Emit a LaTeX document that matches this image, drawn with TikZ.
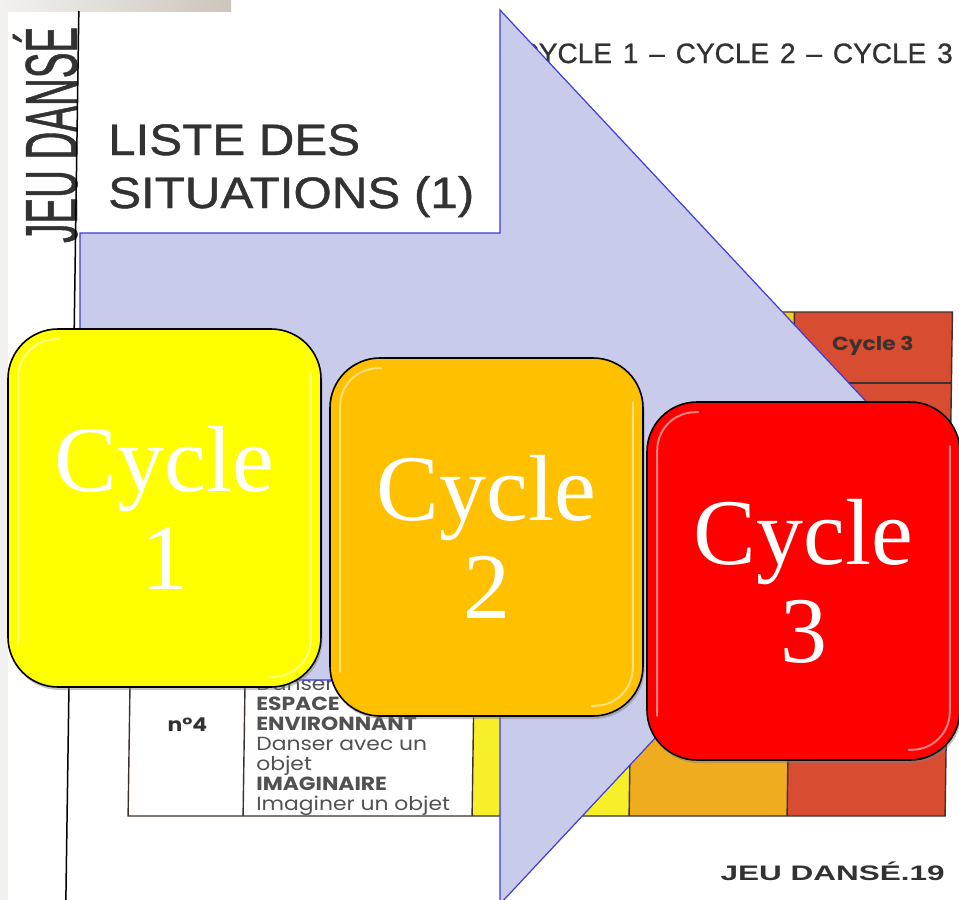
\documentclass[tikz,border=0pt]{standalone}
\usepackage{fontspec}
\setmainfont{Liberation Serif}
\newfontfamily\titlefont[FakeStretch=1.12, FakeBold=1]{Liberation Sans}
\newfontfamily\headfont[FakeBold=0.8, WordSpace=1.4]{Liberation Sans}
\newfontfamily\spinefont[FakeStretch=0.52, FakeBold=0.6]{Liberation Sans}
\newfontfamily\footfont[FakeStretch=1.5]{Liberation Sans}
\newfontfamily\cellfont[FakeStretch=1.15]{Poppins}
\usetikzlibrary{
	calc,
	shadows
}

\definecolor{arrowfill}{RGB}{200,203,234}
\definecolor{arrowline}{RGB}{60,60,225}
\definecolor{cycone}{RGB}{255,255,0}
\definecolor{cyctwo}{RGB}{255,192,0}
\definecolor{cycthree}{RGB}{255,0,0}
\definecolor{tabyellow}{RGB}{247,240,40}
\definecolor{tabgold}{RGB}{245,205,30}
\definecolor{taborange}{RGB}{238,172,30}
\definecolor{tabred}{RGB}{216,76,50}
\definecolor{tabink}{RGB}{60,50,45}
\definecolor{ink}{RGB}{50,50,50}
\definecolor{margin}{RGB}{243,241,239}
\definecolor{bardark}{RGB}{203,197,187}

\begin{document}
\begin{tikzpicture}[
	x=1pt, y=-1pt,
	>=latex,
	cyclebox/.style={draw=black, line width=1.6pt, rounded corners=50pt,
		minimum width=313pt, minimum height=358pt, align=center, text=white,
		font=\fontsize{94}{98}\selectfont,
		drop shadow={shadow xshift=1.5pt, shadow yshift=-3pt, opacity=0.45}},
	gloss/.style={draw=white, opacity=0.5, line width=2pt, rounded corners=38pt, line cap=round},
	tabrule/.style={draw=tabink, line width=1.4pt}
]
	\useasboundingbox (0,0) rectangle (959,900);
	\clip (0,0) rectangle (959,900);
	\fill[white] (0,0) rectangle (959,900);

	% scanned page
	\fill[margin] (0,11) rectangle (8,900);
	\shade[left color=margin, right color=bardark] (0,0) rectangle (231,11);

	\node(spine)[rotate=90, anchor=base west, inner sep=0, text=ink,
		font=\spinefont\fontsize{74}{74}\selectfont] at (77,243) {JEU DANSÉ};
	\node(title)[anchor=base west, inner sep=0, align=left, text=ink,
		font=\titlefont\fontsize{44}{53}\selectfont] at (108,208) {LISTE DES\\SITUATIONS (1)};
	\node(cycles)[anchor=base east, inner sep=0, text=ink,
		font=\headfont\fontsize{28}{28}\selectfont] at (953,63) {CYCLE 1 – CYCLE 2 – CYCLE 3};
	\node(folio)[anchor=base east, inner sep=0, text=ink,
		font=\footfont\bfseries\fontsize{21}{21}\selectfont] at (945,880) {JEU DANSÉ.19};

	\begin{scope}[xslant=0.0146]
		\draw[black, line width=1.5pt] (79,11) -- (79,900);

		\fill[tabyellow] (484,312) rectangle (641,816);
		\fill[taborange] (641,312) rectangle (799,816);
		\fill[tabgold] (641,312) rectangle (799,383);
		\fill[tabred] (799,312) rectangle (957,816);
		\draw[tabrule] (140,312) rectangle (957,816);
		\draw[tabrule] (140,383) -- (957,383);
		\draw[tabrule] (255,312) -- (255,816);
		\draw[tabrule] (484,312) -- (484,816);
		\draw[tabrule] (641,312) -- (641,816);
		\draw[tabrule] (799,312) -- (799,816);

		\node(head)[text=tabink, font=\cellfont\bfseries\fontsize{19}{19}\selectfont]
			at (878,346) {Cycle 3};
		\node(num)[text=ink, font=\cellfont\bfseries\fontsize{19}{19}\selectfont]
			at (198,725) {n°4};
		\node(cell)[anchor=north west, inner sep=0, align=left, text=ink!85,
			font=\cellfont\fontsize{19}{20}\selectfont] at (266,677)
			{Danser\\\textbf{ESPACE}\\\textbf{ENVIRONNANT}\\Danser avec un\\objet\\\textbf{IMAGINAIRE}\\Imaginer un objet};
	\end{scope}

	% arrow
	\coordinate (tip) at (918,457);
	\draw[fill=arrowfill, draw=arrowline, line width=1.2pt]
		(80,233) -- (500,233) -- (500,10) -- (tip) -- (500,904) -- (500,680) -- (80,680) -- cycle;

	% cycles
	\node(cycA)[cyclebox, fill=cycone] at (164.5,508) {Cycle\\1};
	\node(cycB)[cyclebox, fill=cyctwo] at (486.5,537) {Cycle\\2};
	\node(cycC)[cyclebox, fill=cycthree] at (803.5,581) {Cycle\\3};

	\draw[gloss] ($(cycA.north west)+(52,11)$) -| ($(cycA.south west)+(11,-45)$);
	\draw[gloss] ($(cycA.north east)+(-11,45)$) |- ($(cycA.south east)+(-52,-11)$);
	\draw[gloss] ($(cycB.north west)+(52,11)$) -| ($(cycB.south west)+(11,-45)$);
	\draw[gloss] ($(cycB.north east)+(-11,45)$) |- ($(cycB.south east)+(-52,-11)$);
	\draw[gloss] ($(cycC.north west)+(52,11)$) -| ($(cycC.south west)+(11,-45)$);
	\draw[gloss] ($(cycC.north east)+(-11,45)$) |- ($(cycC.south east)+(-52,-11)$);
\end{tikzpicture}
\end{document}
